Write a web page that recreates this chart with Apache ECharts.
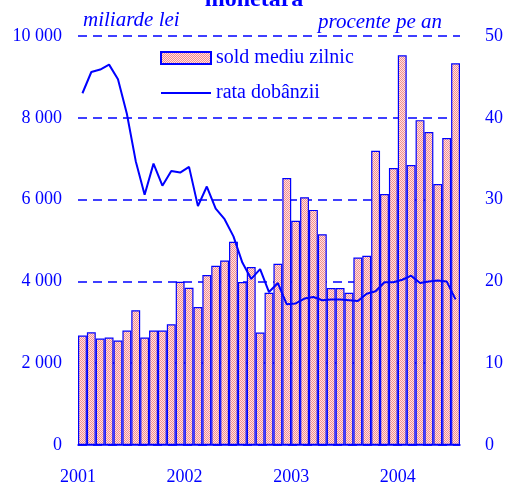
<!DOCTYPE html>
<html>
<head>
<meta charset="utf-8">
<script src="https://cdn.jsdelivr.net/npm/echarts@6/dist/echarts.min.js"></script>
<style>
  html, body { margin: 0; padding: 0; background: #fff; }
  #chart { width: 508px; height: 486px; }
</style>
</head>
<body>
<div id="chart"></div>
<script>
  // luni ian 2001 - iul 2004
  const months = [
    '2001-01','2001-02','2001-03','2001-04','2001-05','2001-06','2001-07','2001-08','2001-09','2001-10','2001-11','2001-12',
    '2002-01','2002-02','2002-03','2002-04','2002-05','2002-06','2002-07','2002-08','2002-09','2002-10','2002-11','2002-12',
    '2003-01','2003-02','2003-03','2003-04','2003-05','2003-06','2003-07','2003-08','2003-09','2003-10','2003-11','2003-12',
    '2004-01','2004-02','2004-03','2004-04','2004-05','2004-06','2004-07'
  ]
  // sold mediu zilnic (miliarde lei)
  const sold = [
    2675, 2756, 2602, 2626, 2553, 2797, 3293, 2626, 2797, 2797, 2951, 3992,
    3846, 3374, 4154, 4382, 4512, 4968, 3984, 4350, 2748, 3724, 4431, 6528,
    5480, 6057, 5748, 5154, 3837, 3837, 3724, 4585, 4626, 7195, 6138, 6772,
    9528, 6845, 7943, 7650, 6382, 7504, 9333
  ]
  // rata dobanzii (procente pe an)
  const rata = [
    43.0, 45.6, 45.9, 46.5, 44.7, 40.5, 34.7, 30.6, 34.4, 31.7, 33.5, 33.3,
    34.0, 29.2, 31.6, 28.9, 27.6, 25.5, 22.3, 20.3, 21.5, 18.7, 19.8, 17.2,
    17.3, 17.9, 18.1, 17.7, 17.8, 17.8, 17.7, 17.6, 18.5, 18.8, 19.9, 19.9,
    20.2, 20.7, 19.8, 20.0, 20.1, 20.0, 17.8
  ]
  const leftTicks = { min: 0, max: 10000, interval: 2000 }
  const rightTicks = { min: 0, max: 50, interval: 10 }

  const blue = '#0000ff'
  const font = "'Liberation Serif', 'Times New Roman', serif"

  // textura punctata roz pentru bare
  function dots() {
    let c = document.createElement('canvas')
    c.width = 2
    c.height = 2
    let ctx = c.getContext('2d')
    ctx.fillStyle = '#fde3e3'
    ctx.fillRect(0, 0, 2, 2)
    ctx.fillStyle = '#f48c8c'
    ctx.fillRect(0, 0, 1, 1)
    ctx.fillRect(1, 1, 1, 1)
    return c
  }
  const barFill = { image: dots(), repeat: 'repeat' }

  let chart = echarts.init(document.getElementById('chart'), null, { renderer: 'canvas' })
  chart.setOption({
    animation: false,
    title: {
      text: 'monetară',
      left: 'center',
      top: -17,
      textStyle: { color: blue, fontFamily: font, fontSize: 24, fontWeight: 'bold' }
    },
    legend: {
      orient: 'vertical',
      left: 160,
      top: 48,
      padding: 0,
      itemWidth: 50,
      itemHeight: 12,
      itemGap: 15,
      textStyle: { color: blue, fontFamily: font, fontSize: 20 },
      data: [
        { name: 'sold mediu zilnic', icon: 'rect' },
        { name: 'rata dobânzii', itemStyle: { color: 'rgba(0,0,0,0)', borderColor: 'rgba(0,0,0,0)', opacity: 0 } }
      ]
    },
    grid: { left: 78, right: 48, top: 36, bottom: 40 },
    xAxis: {
      type: 'category',
      data: months,
      axisLine: { lineStyle: { color: blue, width: 1.5 } },
      axisTick: {
        interval: (i) => i % 12 === 0,
        length: 7,
        lineStyle: { color: blue, width: 1.5 }
      },
      axisLabel: {
        interval: (i) => i % 12 === 0,
        formatter: (v) => v.slice(0, 4),
        color: blue,
        fontFamily: font,
        fontSize: 18,
        margin: 23,
        padding: [0, 9, 0, 0]
      }
    },
    yAxis: [
      {
        type: 'value',
        min: leftTicks.min,
        max: leftTicks.max,
        interval: leftTicks.interval,
        name: 'miliarde lei',
        nameLocation: 'end',
        nameGap: 16,
        nameTextStyle: {
          color: blue, fontFamily: font, fontSize: 21, fontStyle: 'italic',
          align: 'left', verticalAlign: 'middle', padding: [0, 0, 0, 5]
        },
        axisLine: { show: false },
        axisTick: { show: false },
        axisLabel: {
          color: blue,
          fontFamily: font,
          fontSize: 18,
          margin: 16,
          formatter: (v) => String(v).replace(/\B(?=(\d{3})+$)/g, ' ')
        },
        splitLine: { lineStyle: { color: blue, type: [9, 6], width: 1.5 } }
      },
      {
        type: 'value',
        min: rightTicks.min,
        max: rightTicks.max,
        interval: rightTicks.interval,
        name: 'procente pe an',
        nameLocation: 'end',
        nameGap: 14,
        nameTextStyle: {
          color: blue, fontFamily: font, fontSize: 21, fontStyle: 'italic',
          align: 'right', verticalAlign: 'middle', padding: [0, 18, 0, 0]
        },
        axisLine: { show: false },
        axisTick: { show: false },
        axisLabel: { color: blue, fontFamily: font, fontSize: 18, margin: 25 },
        splitLine: { show: false }
      }
    ],
    series: [
      {
        name: 'sold mediu zilnic',
        type: 'bar',
        data: sold,
        barCategoryGap: '0%',
        itemStyle: { color: barFill, borderColor: blue, borderWidth: 1.2 }
      },
      {
        name: 'rata dobânzii',
        type: 'line',
        yAxisIndex: 1,
        data: rata,
        symbol: 'none',
        lineStyle: { color: blue, width: 2 },
        itemStyle: { color: blue },
        z: 5
      }
    ]
  })
</script>
</body>
</html>
